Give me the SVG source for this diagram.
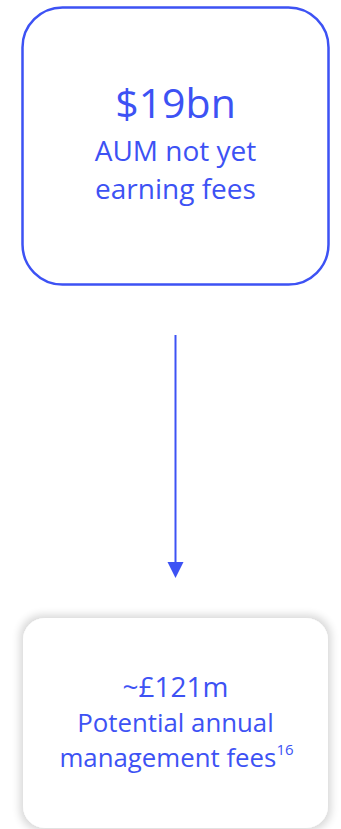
<svg xmlns="http://www.w3.org/2000/svg" width="341" height="829" viewBox="0 0 341 829">
<style>
.t{font-family:"Open Sans","Noto Sans","Liberation Sans",sans-serif;fill:#3d52f4;text-anchor:middle}
.big{font-size:41px}
.mid{font-size:28px}
.sm{font-size:25.8px}
</style>
<defs>
<filter id="sh" x="-20%" y="-20%" width="140%" height="140%">
<feMorphology in="SourceAlpha" operator="dilate" radius="3" result="d"/>
<feGaussianBlur in="d" stdDeviation="4"/>
<feComponentTransfer><feFuncA type="linear" slope="0.16"/></feComponentTransfer>
<feMerge><feMergeNode/><feMergeNode in="SourceGraphic"/></feMerge>
</filter>
</defs>
<rect width="341" height="829" fill="#fff"/>
<g id="node-aum">
<rect x="22.5" y="7.5" width="306" height="277" rx="40" fill="#fff" stroke="#3d52f4" stroke-width="2.5"/>
<text class="t big" x="175.5" y="118">$19bn</text>
<text class="t mid" x="175.5" y="161">AUM not yet</text>
<text class="t mid" x="175.5" y="199">earning fees</text>
</g>
<g id="connectors">
<line x1="175.5" y1="335" x2="175.5" y2="563" stroke="#3d52f4" stroke-width="2"/>
<path d="M167.5,562 L183.5,562 L175.5,578 Z" fill="#3d52f4"/>
</g>
<g id="node-fees">
<rect x="23" y="618" width="305" height="210" rx="22" fill="#fff" filter="url(#sh)"/>
<text class="t mid" x="175.5" y="697">~£121m</text>
<text class="t sm" x="175.5" y="732">Potential annual</text>
<text class="t sm" x="176.5" y="767">management fees<tspan dy="-12" style="font-size:15px">16</tspan></text>
</g>
</svg>
